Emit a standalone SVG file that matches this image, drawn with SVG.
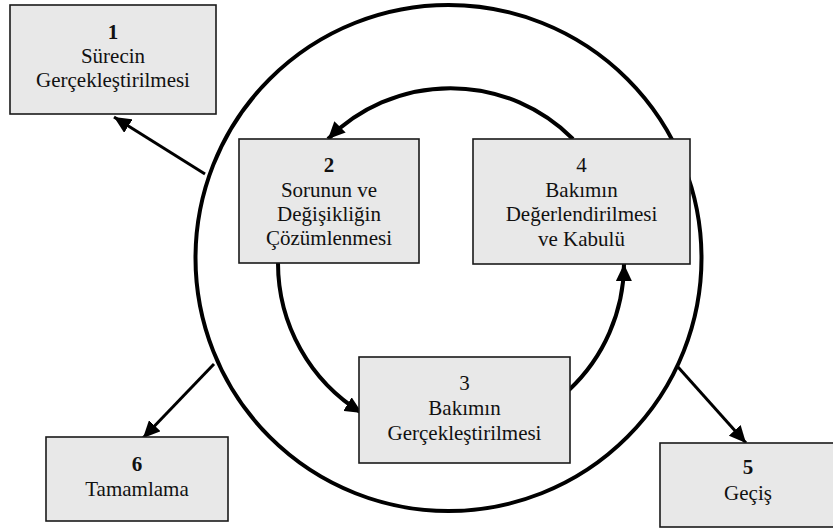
<svg xmlns="http://www.w3.org/2000/svg" width="833" height="528" viewBox="0 0 833 528">
  <style>
    .box { fill: #e8e8e8; stroke: #1a1a1a; stroke-width: 1.6; }
    .lbl { font-family: 'Liberation Serif', 'Times New Roman', Times, 'DejaVu Serif', serif; font-size: 21px; fill: #111; text-anchor: middle; }
    .num { font-weight: bold; }
    .ring { fill: none; stroke: #000; stroke-width: 4; }
    .cycle { fill: none; stroke: #000; stroke-width: 4; marker-end: url(#head); }
    .out { fill: none; stroke: #000; stroke-width: 3; marker-end: url(#head); }
  </style>
  <defs>
    <marker id="head" markerUnits="userSpaceOnUse" markerWidth="18" markerHeight="16" refX="17" refY="8" orient="auto">
      <path d="M0,0 L17,8 L0,16 z" fill="#000"/>
    </marker>
  </defs>

  <rect width="833" height="528" fill="#fff"/>

  <!-- outer ring -->
  <circle class="ring" cx="448.5" cy="258" r="253"/>

  <!-- connectors -->
  <g id="connectors">
    <path class="cycle" d="M573,139 A173,173 0 0 0 328,139"/>
    <path class="cycle" d="M278,263 A176,176 0 0 0 362,413"/>
    <path class="cycle" d="M569,390 A174,174 0 0 0 624,264"/>
    <path class="out" d="M205,174 L114,117"/>
    <path class="out" d="M214,364 L143,438"/>
    <path class="out" d="M678,367 L746,443"/>
  </g>

  <g id="node1">
    <rect class="box" x="10" y="5" width="206" height="109"/>
    <text class="lbl num" x="113" y="39" font-family="Liberation Serif, serif">1</text>
    <text class="lbl" x="113" y="63" font-family="Liberation Serif, serif">Sürecin</text>
    <text class="lbl" x="113" y="87" font-family="Liberation Serif, serif">Gerçekleştirilmesi</text>
  </g>

  <g id="node2">
    <rect class="box" x="239" y="139" width="180" height="124"/>
    <text class="lbl num" x="329" y="172">2</text>
    <text class="lbl" x="329" y="197">Sorunun ve</text>
    <text class="lbl" x="329" y="221">Değişikliğin</text>
    <text class="lbl" x="329" y="245">Çözümlenmesi</text>
  </g>

  <g id="node3">
    <rect class="box" x="359" y="357" width="211" height="106"/>
    <text class="lbl" x="464.5" y="390">3</text>
    <text class="lbl" x="464.5" y="415">Bakımın</text>
    <text class="lbl" x="464.5" y="440">Gerçekleştirilmesi</text>
  </g>

  <g id="node4">
    <rect class="box" x="473" y="139" width="217" height="125"/>
    <text class="lbl" x="581.5" y="172">4</text>
    <text class="lbl" x="581.5" y="197">Bakımın</text>
    <text class="lbl" x="581.5" y="221">Değerlendirilmesi</text>
    <text class="lbl" x="581.5" y="246">ve Kabulü</text>
  </g>

  <g id="node5">
    <rect class="box" x="660" y="443" width="176" height="84"/>
    <text class="lbl num" x="748" y="474">5</text>
    <text class="lbl" x="748" y="500">Geçiş</text>
  </g>

  <g id="node6">
    <rect class="box" x="46" y="437" width="182" height="84"/>
    <text class="lbl num" x="137" y="471">6</text>
    <text class="lbl" x="137" y="496">Tamamlama</text>
  </g>
</svg>
